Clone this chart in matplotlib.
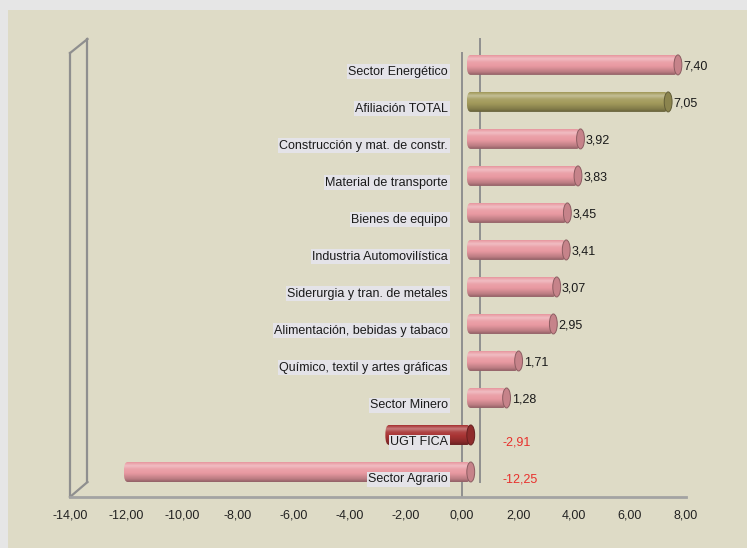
import matplotlib
matplotlib.use("Agg")
import matplotlib.pyplot as plt
import numpy as np
from matplotlib import font_manager, colors as mcolors
from matplotlib.patches import Rectangle, Ellipse, FancyBboxPatch

# datos (de arriba a abajo)
sectores = [
    "Sector Energético",
    "Afiliación TOTAL",
    "Construcción y mat. de constr.",
    "Material de transporte",
    "Bienes de equipo",
    "Industria Automovilística",
    "Siderurgia y tran. de metales",
    "Alimentación, bebidas y tabaco",
    "Químico, textil y artes gráficas",
    "Sector Minero",
    "UGT FICA",
    "Sector Agrario",
]
variacion = [7.40, 7.05, 3.92, 3.83, 3.45, 3.41, 3.07, 2.95, 1.71, 1.28, -2.91, -12.25]
marcas_x = [-14, -12, -10, -8, -6, -4, -2, 0, 2, 4, 6, 8]

# colores
rosa = "#e99aa2"
destacados = {"Afiliación TOTAL": "#a39b5c", "UGT FICA": "#a83434"}

# fuente estrecha si existe
nombres = {f.name for f in font_manager.fontManager.ttflist}
if "Liberation Sans Narrow" in nombres:
    fuente, fs = "Liberation Sans Narrow", 10
else:
    fuente, fs = "Liberation Sans", 9
plt.rcParams["font.family"] = [fuente, "DejaVu Sans"]


def perfil(base, n=60):
    rgb = np.array(mcolors.to_rgb(base))
    pos = [0.0, 0.18, 0.35, 0.6, 0.85, 1.0]
    fac = [0.97, 1.35, 1.08, 0.97, 0.8, 0.62]
    f = np.interp(np.linspace(0, 1, n), pos, fac)
    filas = []
    for v in f:
        if v > 1:
            a = v - 1
            filas.append(rgb * (1 - a) + a)
        else:
            filas.append(rgb * v)
    return np.clip(np.array(filas), 0, 1)[:, None, :]


fig = plt.figure(figsize=(7.47, 5.48), dpi=100)
fig.patch.set_facecolor("#e6e6e6")
fig.add_artist(Rectangle((8 / 747, 0), 1, 538 / 548, transform=fig.transFigure,
                         facecolor="#dedbc6", edgecolor="none", zorder=0))

ax = fig.add_axes([70 / 747, 51 / 548, 616 / 747, 458 / 548])
ax.set_facecolor("none")

n = len(sectores)
filas = np.arange(n)[::-1]

# profundidad 3D (en unidades de datos)
dx, dy = 0.625, 0.405
ox, oy = dx / 2, 0.19
h = 0.54
r = 0.14
y_bajo, y_alto = -0.486, 11.89
y_front_top = 11.51

gris = "#8f8f8f"
# pared izquierda
ax.plot([-14, -14], [y_bajo, y_front_top], color=gris, lw=1.6, clip_on=False, zorder=1)
ax.plot([-14 + dx, -14 + dx], [y_bajo + dy, y_alto], color=gris, lw=1.6, clip_on=False, zorder=1)
ax.plot([-14, -14 + dx], [y_front_top, y_alto], color=gris, lw=1.6, clip_on=False, zorder=1)
ax.plot([-14, -14 + dx], [y_bajo, y_bajo + dy], color=gris, lw=1.6, clip_on=False, zorder=1)
# lineas del cero
ax.plot([0, 0], [y_bajo, y_front_top], color=gris, lw=1.4, clip_on=False, zorder=1)
ax.plot([dx, dx], [y_bajo + dy, y_alto], color=gris, lw=1.4, clip_on=False, zorder=1)

for s, v, k in zip(sectores, variacion, filas):
    base = destacados.get(s, rosa)
    x0, x1 = min(0, v) + ox, max(0, v) + ox
    yc = k + oy
    im = ax.imshow(perfil(base), extent=(x0 - r, x1, yc - h / 2, yc + h / 2),
                   aspect="auto", interpolation="bilinear", zorder=3)
    clip = FancyBboxPatch((x0 - r, yc - h / 2), x1 - x0 + r, h,
                          boxstyle=f"round,pad=0,rounding_size={r * 0.95}",
                          mutation_aspect=(h / 2) / r, transform=ax.transData)
    im.set_clip_path(clip)
    rgb = np.array(mcolors.to_rgb(base))
    ax.add_patch(Ellipse((x1, yc), 2 * r, h, facecolor=rgb * 0.85,
                         edgecolor=rgb * 0.6, lw=0.7, zorder=4))

    ax.text(-0.5, k, s, ha="right", va="center", fontsize=fs, color="#1a1a1a", zorder=6,
            bbox=dict(boxstyle="square,pad=0.12", fc="#e4e3e8", ec="none"))
    etiqueta = f"{v:.2f}".replace(".", ",")
    if v >= 0:
        ax.text(x1 + r + 0.05, yc - 0.03, etiqueta, ha="left", va="center",
                fontsize=fs, color="#1a1a1a", zorder=6)
    else:
        ax.text(1.45, k, etiqueta, ha="left", va="center", fontsize=fs,
                color="#e8302c", zorder=6)

ax.set_xlim(-14, 8)
ax.set_ylim(y_bajo, y_alto)
ax.set_xticks(marcas_x)
ax.set_xticklabels([f"{t:.2f}".replace(".", ",") for t in marcas_x])
ax.set_yticks([])
for lado in ["top", "right", "left"]:
    ax.spines[lado].set_visible(False)
ax.spines["bottom"].set_color("#a3a3a3")
ax.spines["bottom"].set_linewidth(2)
ax.tick_params(axis="x", length=0, pad=9, labelsize=fs, labelcolor="#222222")

fig.savefig("out.png", dpi=100, facecolor=fig.get_facecolor())
